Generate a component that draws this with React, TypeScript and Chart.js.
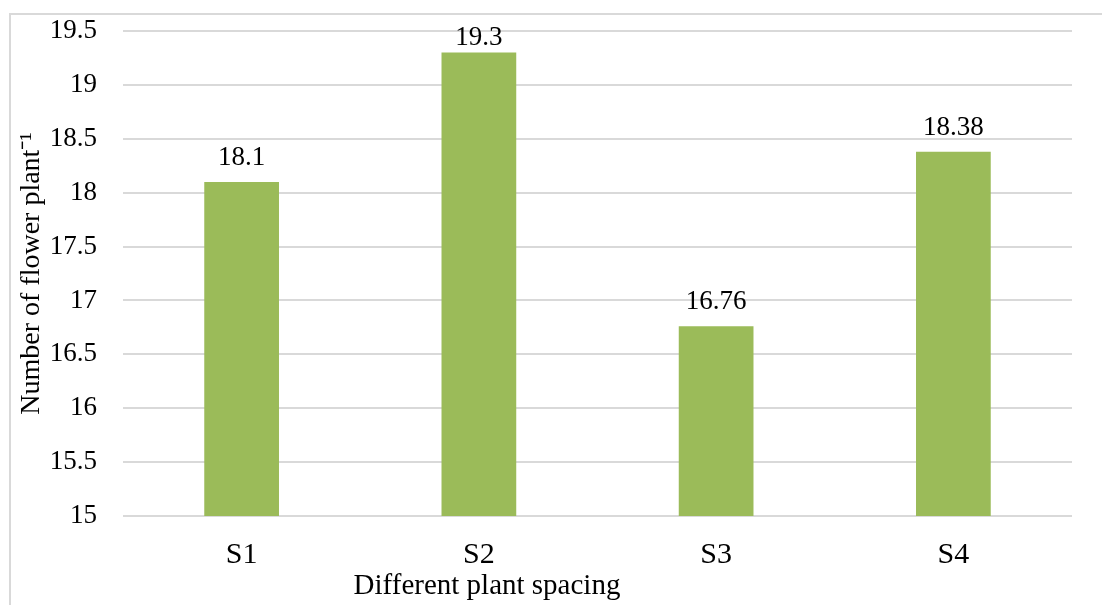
import React, { useEffect, useRef } from "react";
import { Chart, registerables } from "chart.js";

Chart.register(...registerables);

const categories = ["S1", "S2", "S3", "S4"];
const flowerValues = [18.1, 19.3, 16.76, 18.38];
const valueLabels = ["18.1", "19.3", "16.76", "18.38"];
const yTitle = "Number of flower plant\u207B\u00B9";
const xTitle = "Different plant spacing";

const FONT = "'Liberation Serif', 'Times New Roman', serif";

const valueLabelPlugin = {
  id: "valueLabels",
  afterDatasetsDraw(chart: any) {
    const ctx = chart.ctx;
    const meta = chart.getDatasetMeta(0);
    const top = chart.chartArea.top;
    ctx.save();
    ctx.font = `27px ${FONT}`;
    ctx.fillStyle = "#000";
    ctx.textAlign = "center";
    ctx.textBaseline = "alphabetic";
    meta.data.forEach((bar: any, i: number) => {
      const y = Math.max(bar.y - 17, top + 14);
      ctx.fillText(valueLabels[i], bar.x, y);
    });
    ctx.restore();
  },
};

const xTitlePlugin = {
  id: "xTitle",
  afterDraw(chart: any) {
    const ctx = chart.ctx;
    ctx.save();
    ctx.font = `29px ${FONT}`;
    ctx.fillStyle = "#000";
    ctx.textAlign = "center";
    ctx.textBaseline = "alphabetic";
    ctx.fillText(xTitle, 487, 594);
    ctx.restore();
  },
};

export default function App() {
  const ref = useRef<HTMLCanvasElement | null>(null);

  useEffect(() => {
    if (!ref.current) return;
    const chart = new Chart(ref.current, {
      type: "bar",
      data: {
        labels: categories,
        datasets: [
          {
            data: flowerValues,
            backgroundColor: "#9BBB59",
            borderWidth: 0,
            barPercentage: 1,
            categoryPercentage: 0.315,
          },
        ],
      },
      options: {
        responsive: false,
        animation: false,
        devicePixelRatio: 1,
        layout: { padding: { top: 31, right: 30, left: 0, bottom: 0 } },
        plugins: {
          legend: { display: false },
          tooltip: { enabled: false },
        },
        scales: {
          x: {
            grid: { display: false, drawTicks: false },
            border: { display: false },
            ticks: {
              color: "#000",
              font: { family: FONT, size: 30 },
              padding: 21,
            },
            afterFit(scale: any) {
              scale.height = 89;
              scale.paddingLeft = 0;
              scale.paddingRight = 0;
            },
          },
          y: {
            min: 15,
            max: 19.5,
            grid: { color: "#d9d9d9", lineWidth: 2, drawTicks: false },
            border: { display: false },
            ticks: {
              stepSize: 0.5,
              color: "#000",
              font: { family: FONT, size: 27 },
              padding: 26,
              callback: (v: any) => String(Number(v)),
            },
            title: {
              display: true,
              text: yTitle,
              color: "#000",
              font: { family: FONT, size: 28 },
              padding: { top: 15, bottom: 0 },
            },
            afterFit(scale: any) {
              scale.width = 123;
              scale.paddingTop = 0;
              scale.paddingBottom = 0;
            },
          },
        },
      },
      plugins: [valueLabelPlugin, xTitlePlugin],
    });
    return () => chart.destroy();
  }, []);

  return (
    <div
      style={{
        position: "fixed",
        left: 0,
        top: 0,
        width: 1102,
        height: 605,
        overflow: "hidden",
        background: "#fff",
      }}
    >
      <div
        style={{
          position: "absolute",
          left: 9,
          top: 13,
          width: 1200,
          height: 700,
          border: "2px solid #d9d9d9",
          boxSizing: "border-box",
        }}
      />
      <canvas
        ref={ref}
        width={1102}
        height={605}
        style={{ position: "absolute", left: 0, top: 0, width: 1102, height: 605 }}
      />
    </div>
  );
}
